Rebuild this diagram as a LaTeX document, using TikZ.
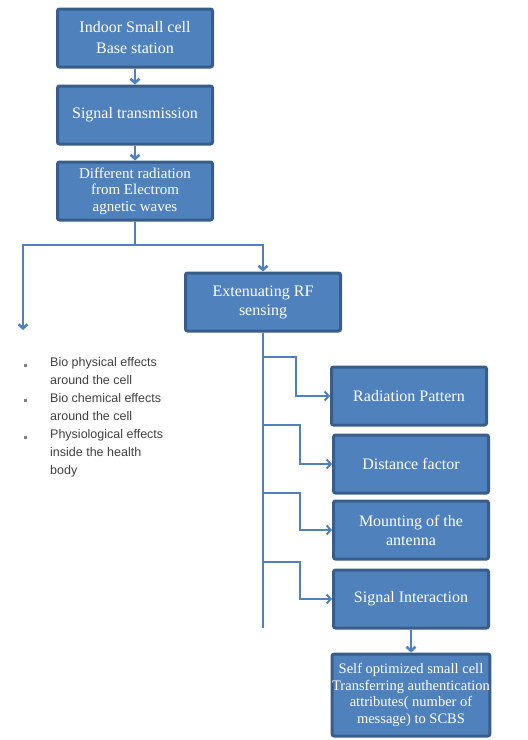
\documentclass[tikz,border=0pt]{standalone}
\usepackage{fontspec}
\setmainfont{Liberation Serif}
\setsansfont{Liberation Sans}
\usetikzlibrary{arrows.meta,positioning}
\definecolor{boxblue}{HTML}{4F81BD}
\definecolor{boxedge}{HTML}{385D8A}
\definecolor{effgray}{HTML}{404040}

\begin{document}
\begin{tikzpicture}[x=1pt,y=-1pt,>={Straight Barb[length=4pt,width=9pt]},
	blkbox/.style={rectangle, draw=boxedge, line width=3pt, fill=boxblue,
		text=white, rounded corners=2pt, minimum width=155pt,
		minimum height=58pt, align=center, inner sep=2pt,
		font=\fontsize{16}{19}\selectfont},
	flowline/.style={draw=boxblue, line width=2.6pt},
	tapline/.style={draw=boxblue, line width=2pt},
	efftext/.style={align=left, text=effgray, inner sep=0pt,
		font=\sffamily\fontsize{12.5}{18}\selectfont}]
\useasboundingbox (0,0) rectangle (528,740);

% main chain
\node[blkbox] (bs) at (135,38) {Indoor Small cell\\[2pt]Base station};
\node[blkbox] (tx) at (135,115) {Signal transmission};
\node[blkbox, font=\fontsize{15}{16.5}\selectfont] (rad) at (135,191)
	{Different radiation\\from Electrom\\agnetic waves};
\node[blkbox] (rf) at (263,302) {Extenuating RF\\sensing};

% factors
\node[blkbox] (pat) at (409,396) {Radiation Pattern};
\node[blkbox] (dist) at (411,464) {Distance factor};
\node[blkbox] (mount) at (411,530) {Mounting of the\\antenna};
\node[blkbox] (sig) at (411,599) {Signal Interaction};
\node[blkbox, minimum height=82pt, inner sep=0pt, font=\fontsize{14.5}{16.5}\selectfont] (scbs) at (411,695)
	{Self optimized small cell\\Transferring authentication\\attributes( number of\\message) to SCBS};

% effects list
\node[efftext, anchor=north west] (eff) at (50,357)
	{Bio physical effects\\around the cell\\Bio chemical effects\\around the cell\\Physiological effects\\inside the health\\body};
\foreach \by in {365,400,437}
	\fill[gray] (23.5,\by-1.5) rectangle ++(3,3);

\coordinate (split) at (135,245);
\coordinate (splitL) at (23,245);
\coordinate (splitR) at (263,245);
\coordinate (leftend) at (23,330);
\coordinate (trunkend) at (263,628);

\draw[flowline,->] (bs) -- (tx);
\draw[flowline,->] (tx) -- (rad);
\draw[flowline] (rad) -- (split);
\draw[flowline,->] (split) -- (splitL) -- (leftend);
\draw[flowline,->] (split) -- (splitR) -- (rf);
\draw[flowline] (rf) -- (trunkend);

\foreach \bx/\ty/\dx in {pat/357/33, dist/425/37, mount/493/37, sig/562/37}
	\draw[tapline,->] (263,\ty) -- ++(\dx,0) |- (\bx.west);

\draw[flowline,->] (sig) -- (scbs);

\end{tikzpicture}
\end{document}
